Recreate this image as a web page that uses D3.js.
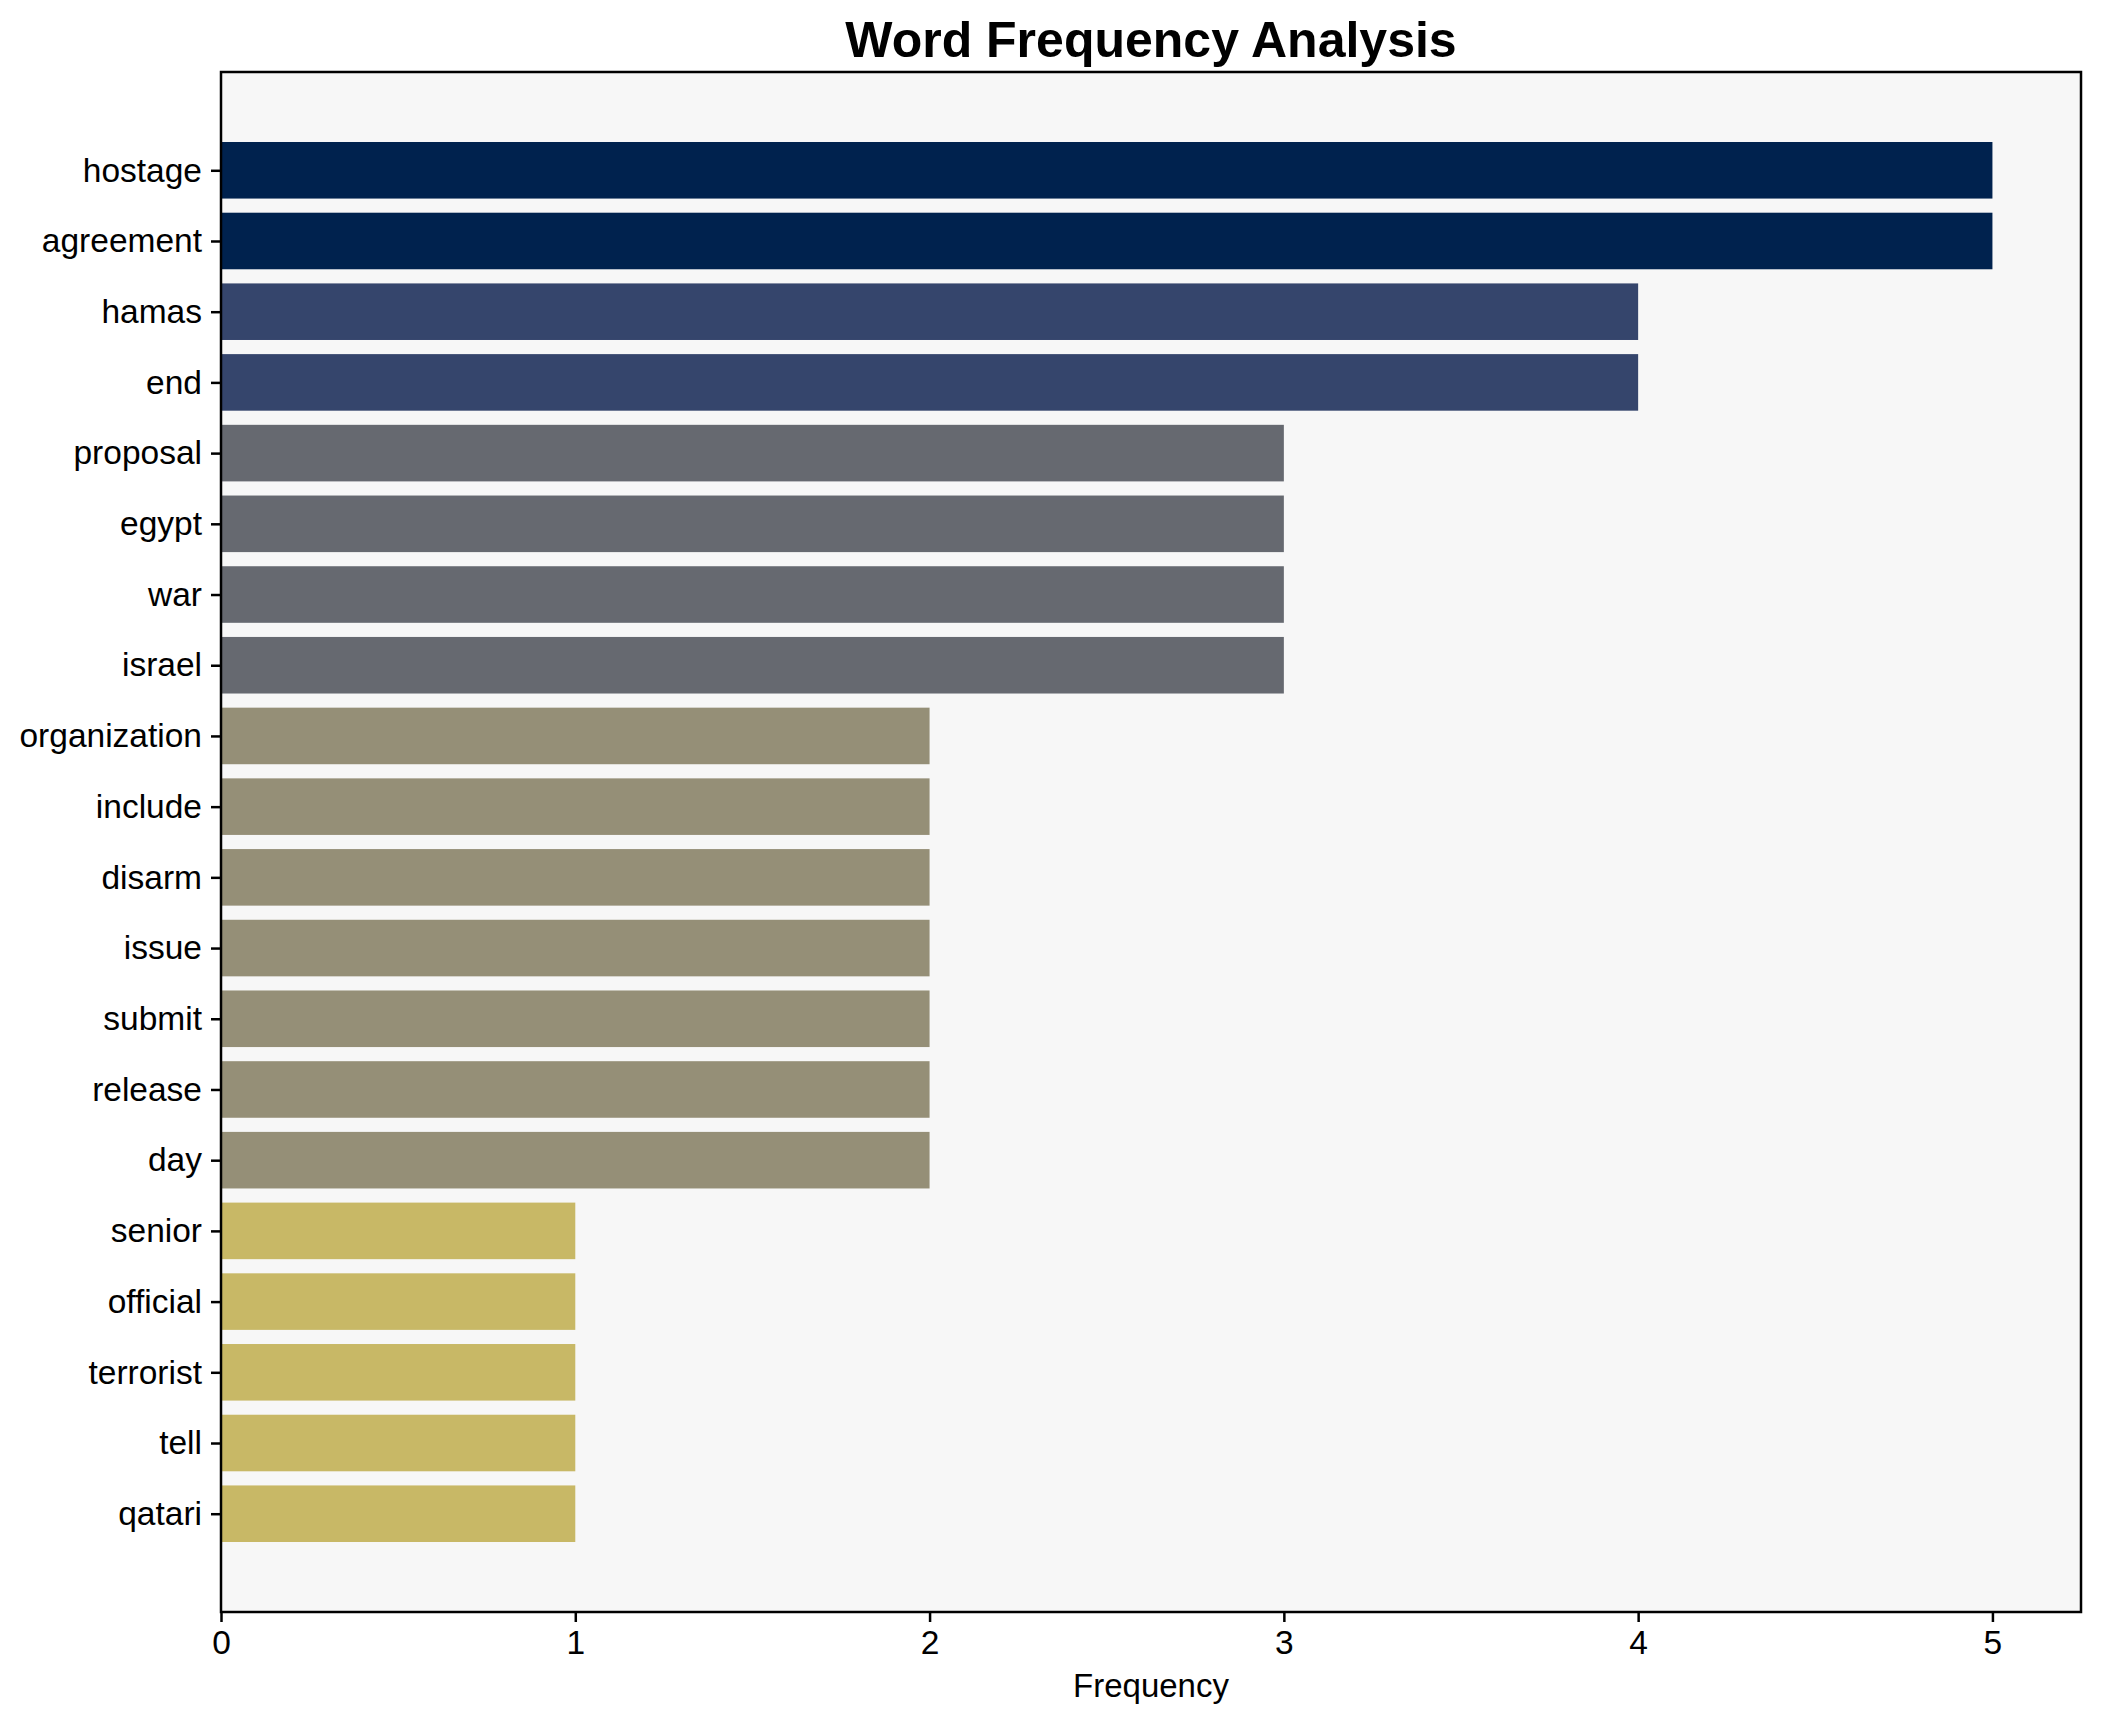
<!DOCTYPE html>
<html>
<head>
<meta charset="utf-8">
<script src="https://cdn.jsdelivr.net/npm/d3@7"></script>
<style>
  body { margin: 0; background: #fff; }
  svg { display: block; font-family: "Liberation Sans", Arial, sans-serif; }
  .axis text { font-size: 33.5px; fill: #000; }
  .axis path, .axis line { stroke: #000; stroke-width: 2.5; }
</style>
</head>
<body>
<svg id="chart" width="2101" height="1722"></svg>
<script>
// word counts, top to bottom
const words = ['hostage', 'agreement', 'hamas', 'end', 'proposal', 'egypt', 'war', 'israel',
  'organization', 'include', 'disarm', 'issue', 'submit', 'release', 'day',
  'senior', 'official', 'terrorist', 'tell', 'qatari'];
const counts = [5, 5, 4, 4, 3, 3, 3, 3, 2, 2, 2, 2, 2, 2, 2, 1, 1, 1, 1, 1];
const xTicks = [0, 1, 2, 3, 4, 5];

// colour per count level
const levels = [1, 2, 3, 4, 5];
const levelColors = ['#c8b866', '#958f77', '#666970', '#35456c', '#00224e'];

const width = 2101, height = 1722;
const margin = { top: 72, right: 20, bottom: 110, left: 221 };
const plotW = 2081 - margin.left;
const plotH = 1612 - margin.top;

const svg = d3.select('#chart');

const x = d3.scaleLinear()
  .domain([0, d3.max(counts) * 1.05])
  .range([0, plotW]);

// matplotlib-style category positions with 5% margins
const pad = 0.4 + 0.05 * (words.length - 1 + 0.8);
const y = d3.scaleLinear()
  .domain([-pad, words.length - 1 + pad])
  .range([0, plotH]);

const color = d3.scaleOrdinal().domain(levels).range(levelColors);

const g = svg.append('g')
  .attr('transform', `translate(${margin.left},${margin.top})`);

g.append('rect')
  .attr('width', plotW)
  .attr('height', plotH)
  .attr('fill', '#f7f7f7');

g.selectAll('rect.bar')
  .data(counts)
  .join('rect')
  .attr('class', 'bar')
  .attr('x', x(0))
  .attr('y', (d, i) => y(i - 0.4))
  .attr('width', d => x(d) - x(0))
  .attr('height', y(0.8) - y(0))
  .attr('fill', d => color(d));

const yAxis = g.append('g')
  .attr('class', 'axis')
  .call(d3.axisLeft(y)
    .tickValues(d3.range(words.length))
    .tickFormat(i => words[i])
    .tickSize(10)
    .tickPadding(9));
yAxis.select('.domain').remove();

const xAxis = g.append('g')
  .attr('class', 'axis')
  .attr('transform', `translate(0,${plotH})`)
  .call(d3.axisBottom(x)
    .tickValues(xTicks)
    .tickFormat(d3.format('d'))
    .tickSize(10)
    .tickPadding(8));
xAxis.select('.domain').remove();

// frame
g.append('rect')
  .attr('width', plotW)
  .attr('height', plotH)
  .attr('fill', 'none')
  .attr('stroke', '#000')
  .attr('stroke-width', 2.5);

svg.append('text')
  .attr('x', margin.left + plotW / 2)
  .attr('y', 1697)
  .attr('text-anchor', 'middle')
  .style('font-size', '33px')
  .text('Frequency');

svg.append('text')
  .attr('x', margin.left + plotW / 2)
  .attr('y', 57)
  .attr('text-anchor', 'middle')
  .style('font-size', '50px')
  .style('font-weight', 'bold')
  .text('Word Frequency Analysis');
</script>
</body>
</html>
